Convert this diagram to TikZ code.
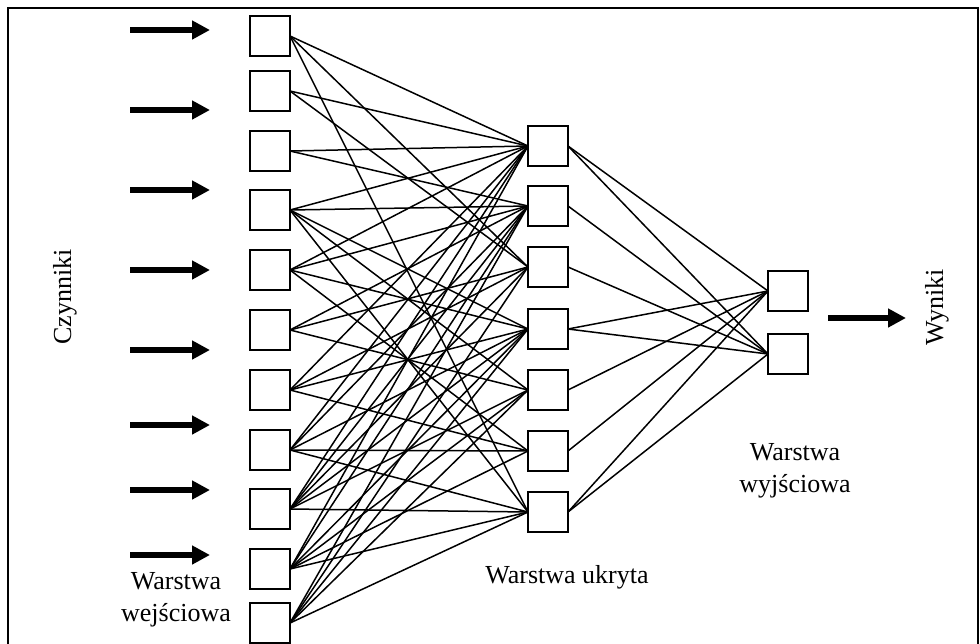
\documentclass[tikz,border=0pt]{standalone}
\usepackage{fontspec}
\setmainfont{Liberation Serif}
\usetikzlibrary{arrows.meta}
\begin{document}
\begin{tikzpicture}[x=1pt,y=-1pt,
  unit/.style={draw, line width=1.6pt, minimum size=40pt, inner sep=0pt, outer sep=0pt},
  link/.style={line width=1.5pt},
  bigarrow/.style={line width=5.5pt, -{Triangle[length=18pt,width=18pt]}},
  lbl/.style={font=\fontsize{26}{32}\selectfont, align=center, inner sep=0pt}]
\useasboundingbox (0,0) rectangle (980,643);
\draw[line width=1.5pt] (8,660) -- (8,8) -- (978,8) -- (978,660);
% input layer
\foreach \i/\y in {1/36,2/91,3/151,4/210,5/270,6/330,7/390,8/450,9/509,10/569,11/623}
  \node[unit] (i\i) at (270,\y) {};
% hidden layer
\foreach \j/\y in {1/146,2/206,3/267,4/329,5/390,6/451,7/512}
  \node[unit] (h\j) at (548,\y) {};
% output layer
\node[unit] (o1) at (788,291) {};
\node[unit] (o2) at (788,354) {};
% input -> hidden
\foreach \i/\j in {1/1,1/3,1/7, 2/1,2/3, 3/1,3/2, 4/1,4/2,4/4,4/5,4/7,
  5/1,5/2,5/4,5/6, 6/2,6/3,6/5, 7/1,7/3,7/4,7/6, 8/1,8/2,8/4,8/6,8/7,
  9/1,9/2,9/3,9/4,9/5,9/7, 10/1,10/2,10/4,10/5,10/6,10/7, 11/2,11/3,11/4,11/5,11/7}
  \draw[link] (i\i.east) -- (h\j.west);
% hidden -> output
\foreach \j/\k in {1/1,1/2,2/2,3/2,4/1,4/2,5/1,6/1,7/1,7/2}
  \draw[link] (h\j.east) -- (o\k.west);
% input arrows
\foreach \n/\y in {1/30,2/110,3/190,4/270,5/350,6/425,7/490,8/555} {
  \coordinate (as\n) at (130,\y);
  \coordinate (ae\n) at (210,\y);
  \draw[bigarrow] (as\n) -- (ae\n);
}
\coordinate (outs) at (828,318);
\coordinate (oute) at (906,318);
\draw[bigarrow] (outs) -- (oute);
% labels
\node[lbl, rotate=90] (czyn) at (65,297) {Czynniki};
\node[lbl, rotate=90] (wyn) at (937,307) {Wyniki};
\node[lbl] (lin) at (176,600) {Warstwa\\wejściowa};
\node[lbl] (lhid) at (567,577) {Warstwa ukryta};
\node[lbl] (lout) at (795,471) {Warstwa\\wyjściowa};
\end{tikzpicture}
\end{document}
